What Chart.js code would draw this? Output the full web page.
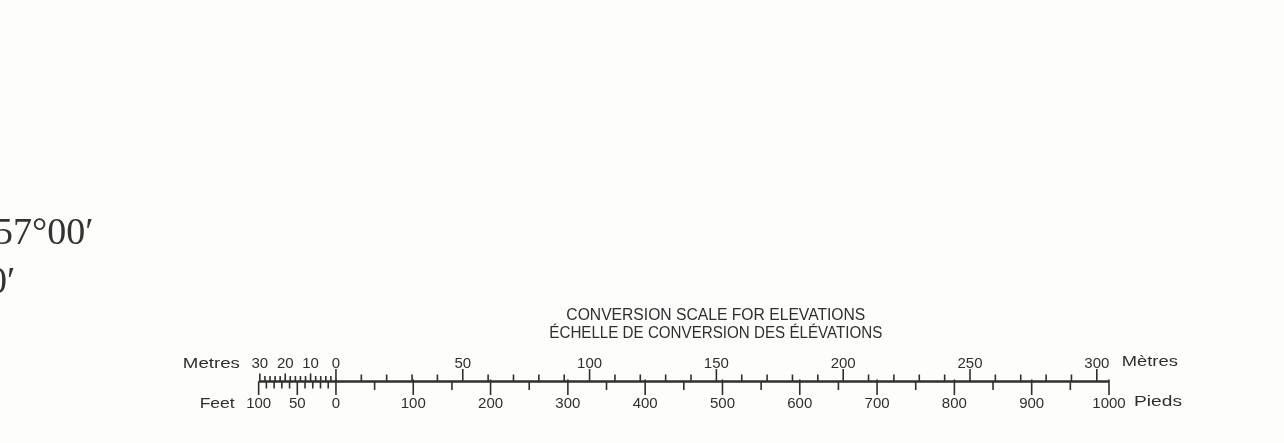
<!DOCTYPE html>
<html>
<head>
<meta charset="utf-8">
<title>Conversion scale for elevations</title>
<script src="https://cdn.jsdelivr.net/npm/chart.js@4.4.1/dist/chart.umd.min.js"></script>
<style>
    html, body { margin: 0; padding: 0; background: #fdfdfc; }
    #wrap { width: 1284px; height: 443px; position: relative; }
</style>
</head>
<body>
<div id="wrap"><canvas id="scaleChart"></canvas></div>
<script>
// tick values (negative = the extension left of zero)
const metresLabels = [-30, -20, -10, 0, 50, 100, 150, 200, 250, 300];
const feetLabels = [-100, -50, 0, 100, 200, 300, 400, 500, 600, 700, 800, 900, 1000];

const metresMajor = [0, 50, 100, 150, 200, 250, 300];
const metresMinor = [10, 20, 30, 40, 60, 70, 80, 90, 110, 120, 130, 140, 160, 170, 180, 190, 210, 220, 230, 240, 260, 270, 280, 290];
const metresMid = [-10, -20, -30];
const metresFine = [-2, -4, -6, -8, -12, -14, -16, -18, -22, -24, -26, -28];

const feetMajor = [0, 100, 200, 300, 400, 500, 600, 700, 800, 900, 1000];
const feetMinor = [50, 150, 250, 350, 450, 550, 650, 750, 850, 950];
const feetMid = [-50, -100];
const feetFine = [-10, -20, -30, -40, -60, -70, -80, -90];

const titleLines = ["CONVERSION SCALE FOR ELEVATIONS", "ÉCHELLE DE CONVERSION DES ÉLÉVATIONS"];

const FT_TO_M = 0.3048;
const ftMin = -434.6, ftMax = 1226.4;
const ink = "#2f2f2f";

// turn a list of values into vertical segments (from y0 to y1), split by gaps
function tickSegments(values, y0, y1) {
    const pts = [];
    values.forEach(v => {
        pts.push({ x: v, y: y0 }, { x: v, y: y1 }, { x: v, y: null });
    });
    return pts;
}

function tickSet(values, y0, y1, axis, width) {
    return {
        data: tickSegments(values, y0, y1),
        xAxisID: axis,
        borderColor: ink,
        borderWidth: width || 1.6,
        pointRadius: 0,
        showLine: true,
        spanGaps: false
    };
}

// draw text squeezed/stretched to a measured width
function fitText(ctx, str, x, y, w, align) {
    const natural = ctx.measureText(str).width;
    const k = w / natural;
    ctx.save();
    let left = x;
    if (align === "center") left = x - w / 2;
    if (align === "right") left = x - w;
    ctx.translate(left, y);
    ctx.scale(k, 1);
    ctx.textAlign = "left";
    ctx.fillText(str, 0, 0);
    ctx.restore();
}

const labelPlugin = {
    id: "labels",
    afterDatasetsDraw(chart) {
        const ctx = chart.ctx;
        const ft = chart.scales.x;
        const m = chart.scales.m;
        const y = chart.scales.y;
        ctx.save();
        ctx.fillStyle = ink;
        ctx.textBaseline = "alphabetic";

        // title
        ctx.font = "16px 'Liberation Sans', Arial, sans-serif";
        const mid = (ft.getPixelForValue(-100) + ft.getPixelForValue(1000)) / 2 + 32;
        fitText(ctx, titleLines[0], mid, y.getPixelForValue(61.5), 299, "center");
        fitText(ctx, titleLines[1], mid, y.getPixelForValue(43.5), 333, "center");

        // tick labels
        ctx.font = "15px 'Liberation Sans', Arial, sans-serif";
        ctx.textAlign = "center";
        metresLabels.forEach(v => {
            ctx.fillText(String(Math.abs(v)), m.getPixelForValue(v), y.getPixelForValue(14));
        });
        feetLabels.forEach(v => {
            ctx.fillText(String(Math.abs(v)), ft.getPixelForValue(v), y.getPixelForValue(-26.5));
        });

        ctx.font = "15.5px 'Liberation Sans', Arial, sans-serif";
        fitText(ctx, "Metres", m.getPixelForValue(-30) - 20, y.getPixelForValue(14), 57, "right");
        fitText(ctx, "Feet", ft.getPixelForValue(-100) - 24, y.getPixelForValue(-26.5), 35, "right");
        fitText(ctx, "Mètres", m.getPixelForValue(300) + 25, y.getPixelForValue(16), 56, "left");
        fitText(ctx, "Pieds", ft.getPixelForValue(1000) + 25, y.getPixelForValue(-24), 48, "left");

        // map margin coordinates, cut by the left edge
        ctx.font = "38px 'Liberation Serif', 'DejaVu Serif', serif";
        ctx.fillStyle = "#333333";
        ctx.textAlign = "left";
        ctx.fillText("57°00′", -6, 244);
        ctx.fillText("0′", -12, 293);
        ctx.restore();
    }
};

new Chart(document.getElementById("scaleChart"), {
    type: "scatter",
    data: {
        datasets: [
            // the bar itself
            {
                data: [{ x: -100, y: 0 }, { x: 1000, y: 0 }],
                xAxisID: "x",
                borderColor: ink,
                borderWidth: 2.4,
                pointRadius: 0,
                showLine: true
            },
            tickSet(metresMajor, 0, 12.5, "m"),
            tickSet(metresMinor, 0, 7, "m"),
            tickSet(metresMid, 0, 8, "m"),
            tickSet(metresFine, 0, 5.5, "m"),
            tickSet(feetMajor, 2, -13.5, "x"),
            tickSet(feetMinor, 0, -8.5, "x"),
            tickSet(feetMid, 0, -13.5, "x"),
            tickSet(feetFine, 0, -7, "x")
        ]
    },
    options: {
        responsive: true,
        maintainAspectRatio: false,
        animation: false,
        events: [],
        layout: { padding: 0 },
        plugins: {
            legend: { display: false },
            tooltip: { enabled: false }
        },
        scales: {
            x: { type: "linear", display: false, min: ftMin, max: ftMax },
            m: { type: "linear", axis: "x", display: false, min: ftMin * FT_TO_M, max: ftMax * FT_TO_M },
            y: { type: "linear", display: false, min: -61.5, max: 381.5 }
        }
    },
    plugins: [labelPlugin]
});
</script>
</body>
</html>
